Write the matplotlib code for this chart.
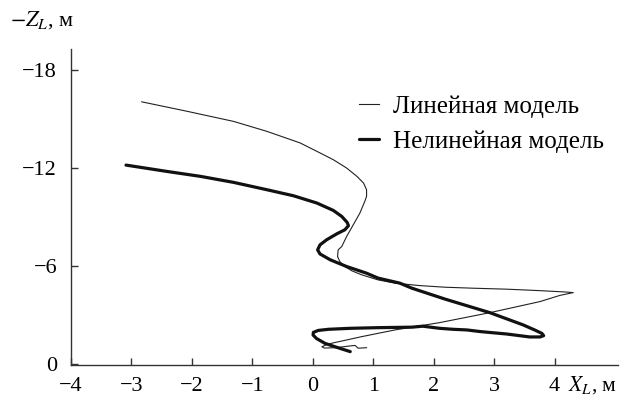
import numpy as np
import matplotlib
matplotlib.use('Agg')
import matplotlib.pyplot as plt

plt.rcParams['font.family'] = ['Liberation Serif', 'DejaVu Serif']
plt.rcParams['mathtext.fontset'] = 'stix'
plt.rcParams['font.size'] = 16

# линейная модель (тонкая линия)
lin_x = [-2.83, -2.08, -1.31, -0.76, -0.21, 0.07, 0.34, 0.56, 0.73, 0.84, 0.89,
         0.89, 0.86, 0.78, 0.67, 0.56, 0.48, 0.42, 0.41, 0.45, 0.53, 0.65, 0.81,
         1.08, 1.36, 1.77, 2.19, 2.65, 3.21, 3.76, 4.17, 4.31, 4.09, 3.76, 2.93,
         2.10, 1.36, 0.81, 0.26, 0.15, 0.19, 0.37, 0.62, 0.70, 0.75, 0.89]
lin_y = [-16.06, -15.48, -14.86, -14.25, -13.54, -13.02, -12.51, -12.00, -11.49,
         -11.08, -10.67, -10.26, -9.95, -9.24, -8.52, -7.80, -7.19, -6.98, -6.57,
         -6.25, -5.96, -5.69, -5.45, -5.14, -4.94, -4.79, -4.69, -4.63, -4.57,
         -4.48, -4.40, -4.36, -4.19, -3.81, -3.13, -2.52, -2.07, -1.66, -1.21,
         -1.04, -0.96, -0.98, -1.09, -1.12, -0.95, -0.98]

# нелинейная модель (толстая линия)
nl_x = [-3.09, -2.41, -1.86, -1.31, -0.76, -0.32, 0.07, 0.34, 0.48, 0.57, 0.59,
        0.53, 0.40, 0.23, 0.12, 0.08, 0.12, 0.29, 0.56, 0.89, 1.08, 1.44, 1.64,
        2.19, 2.93, 3.48, 3.67, 3.79, 3.82, 3.76, 3.59, 3.21, 2.77, 2.55, 2.32,
        2.10, 1.82, 1.64, 1.08, 0.62, 0.26, 0.09, 0.01, 0.005, 0.06, 0.20, 0.40,
        0.62]
nl_y = [-12.18, -11.79, -11.49, -11.12, -10.67, -10.30, -9.85, -9.40, -9.03,
        -8.66, -8.46, -8.21, -7.97, -7.60, -7.29, -6.98, -6.73, -6.37, -5.96,
        -5.55, -5.25, -4.94, -4.63, -3.96, -3.13, -2.38, -2.07, -1.86, -1.72,
        -1.64, -1.64, -1.82, -1.97, -2.07, -2.11, -2.17, -2.30, -2.24, -2.21,
        -2.17, -2.11, -2.04, -1.92, -1.76, -1.55, -1.25, -1.00, -0.74]

xticks = [-4, -3, -2, -1, 0, 1, 2, 3, 4]
yticks = [0, -6, -12, -18]

fig = plt.figure(figsize=(6.21, 3.98), dpi=100)
ax = fig.add_axes([71/621, 1-365/398, (618-71)/621, (365-49)/398])

ax.plot(lin_x, lin_y, color='#222222', lw=0.8, solid_joinstyle='round',
        label='Линейная модель')
ax.plot(nl_x, nl_y, color='#111111', lw=2.3, solid_joinstyle='round',
        solid_capstyle='round', label='Нелинейная модель')

ax.set_xlim(-4, 5.05)
ax.set_ylim(0.08, -19.3)
ax.set_xticks(xticks)
ax.set_yticks(yticks)
for s in ['top', 'right']:
    ax.spines[s].set_visible(False)
for s in ['left', 'bottom']:
    ax.spines[s].set_color('#333333')
    ax.spines[s].set_linewidth(1.0)
ax.tick_params(direction='in', length=5, width=1, color='#333333', labelsize=16)
ax.tick_params(axis='y', pad=10)
ax.tick_params(axis='x', pad=8.5)

fig.text(10/621, 1-20/398, '$-Z_L$, м', ha='left', va='center', fontsize=16)
fig.text(617/621, 1-385/398, '$X_L$, м', ha='right', va='center', fontsize=15.5)

ax.legend(loc='center left', bbox_to_anchor=(359/621, 1-124/398),
          bbox_transform=fig.transFigure, frameon=False, borderpad=0,
          borderaxespad=0, handlelength=0.8, handletextpad=0.55,
          labelspacing=0.5, fontsize=18)

fig.savefig('out.png', dpi=100)
